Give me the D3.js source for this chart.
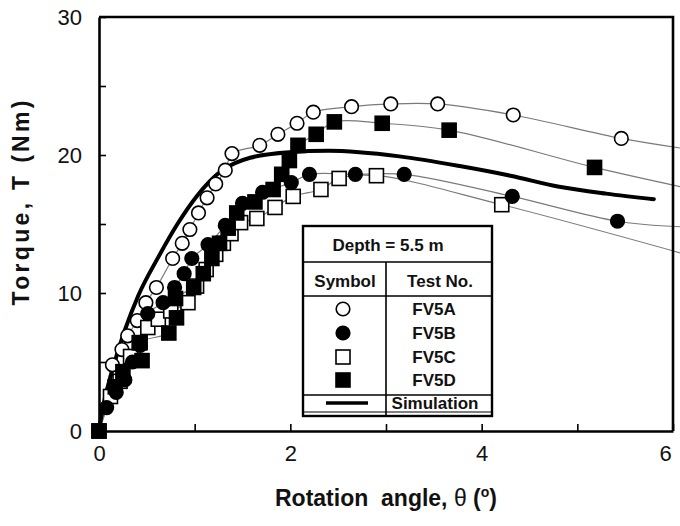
<!DOCTYPE html>
<html>
<head>
<meta charset="utf-8">
<script src="https://cdn.jsdelivr.net/npm/d3@7"></script>
<style>
  body { margin: 0; background: #fff; }
  text { font-family: "Liberation Sans", Arial, Helvetica, sans-serif; }
</style>
</head>
<body>
<svg id="chart" width="680" height="526"></svg>
<script>
// measured points [rotation angle (deg), torque (Nm)]
var fv5a = [[0,0],[0.14,4.8],[0.24,5.9],[0.30,6.9],[0.40,8.0],[0.49,9.3],[0.60,10.4],[0.77,12.5],
  [0.87,13.6],[0.95,14.6],[1.04,15.8],[1.13,16.9],[1.22,17.9],[1.32,18.9],[1.39,20.1],[1.68,20.7],
  [1.87,21.5],[2.07,22.3],[2.24,23.1],[2.64,23.5],[3.05,23.7],[3.54,23.7],[4.33,22.9],[5.46,21.2]];
var fv5b = [[0,0],[0.08,1.7],[0.18,2.8],[0.27,3.7],[0.35,5.0],[0.43,6.2],[0.51,8.5],[0.67,9.3],
  [0.79,10.4],[0.89,11.4],[0.97,12.5],[1.14,13.5],[1.32,14.9],[1.50,16.5],[1.71,17.3],[2.01,18.0],
  [2.20,18.6],[2.68,18.6],[3.19,18.6],[4.32,17.0],[5.42,15.2]];
var fv5c = [[0,0],[0.12,2.5],[0.22,3.6],[0.33,5.4],[0.42,6.4],[0.51,7.5],[0.62,8.1],[0.75,8.7],
  [0.93,9.3],[1.02,10.5],[1.12,11.7],[1.22,12.8],[1.30,13.6],[1.38,14.3],[1.48,15.1],[1.65,15.4],
  [1.84,16.2],[2.03,17.0],[2.32,17.5],[2.51,18.3],[2.90,18.5],[4.21,16.4]];
var fv5d = [[0,0],[0.17,3.2],[0.25,4.3],[0.45,5.1],[0.43,6.4],[0.73,7.1],[0.81,8.2],[0.80,9.6],
  [0.99,10.4],[1.09,11.4],[1.18,12.5],[1.26,13.6],[1.35,14.7],[1.44,15.8],[1.63,16.6],[1.82,17.5],
  [1.91,18.6],[1.99,19.6],[2.08,20.7],[2.27,21.5],[2.46,22.4],[2.96,22.3],[3.66,21.8],[5.18,19.1]];
// where the thin fitted lines leave the plot
var fv5aTail = [6.08, 20.5];
var fv5bTail = [6.08, 14.8];
var fv5cTail = [6.08, 12.9];
var fv5dTail = [6.08, 17.7];
var simulation = [[0,0],[0.03,1.3],[0.14,4.4],[0.27,7.3],[0.41,9.8],[0.62,12.6],[0.82,15.0],
  [1.02,17.0],[1.29,18.9],[1.58,19.8],[1.99,20.2],[2.4,20.3],[2.72,20.2],[3.14,19.9],[3.77,19.2],
  [4.3,18.5],[4.81,17.7],[5.3,17.2],[5.80,16.8]];

var xTicks = [0, 1, 2, 3, 4, 5, 6];
var yTicks = [0, 5, 10, 15, 20, 25, 30];
var testNames = ["FV5A", "FV5B", "FV5C", "FV5D"];
var depthLabel = "Depth = 5.5 m";

var svg = d3.select("#chart");
var x = d3.scaleLinear().domain([0, 6]).range([99, 673]);
var y = d3.scaleLinear().domain([0, 30]).range([431, 17]);

var series = [
  { name: "FV5A", pts: fv5a, tail: fv5aTail, shape: "circle", fill: "#fff" },
  { name: "FV5C", pts: fv5c, tail: fv5cTail, shape: "square", fill: "#fff" },
  { name: "FV5B", pts: fv5b, tail: fv5bTail, shape: "circle", fill: "#000" },
  { name: "FV5D", pts: fv5d, tail: fv5dTail, shape: "square", fill: "#000" }
];

var line = d3.line()
  .x(d => x(d[0]))
  .y(d => y(d[1]))
  .curve(d3.curveCatmullRom.alpha(0.5));

// thin grey connecting lines
series.forEach(function(s) {
  svg.append("path")
    .attr("d", line(s.pts.concat([s.tail])))
    .attr("fill", "none")
    .attr("stroke", "#7a7a7a")
    .attr("stroke-width", 1.2);
});

// simulation curve
svg.append("path")
  .attr("d", d3.line().x(d => x(d[0])).y(d => y(d[1])).curve(d3.curveMonotoneX)(simulation))
  .attr("fill", "none")
  .attr("stroke", "#000")
  .attr("stroke-width", 4)
  .attr("stroke-linecap", "round");

function drawMarker(g, shape, fill, cx, cy) {
  if (shape == "circle") {
    g.append("circle").attr("cx", cx).attr("cy", cy).attr("r", 6.8)
      .attr("fill", fill).attr("stroke", "#000").attr("stroke-width", 1.6);
  } else {
    g.append("rect").attr("x", cx - 7).attr("y", cy - 7).attr("width", 14).attr("height", 14)
      .attr("fill", fill).attr("stroke", "#000").attr("stroke-width", 1.6);
  }
}

series.forEach(function(s) {
  var g = svg.append("g");
  s.pts.forEach(function(p) {
    drawMarker(g, s.shape, s.fill, x(p[0]), y(p[1]));
  });
});

// axes with inward ticks
var xAxis = svg.append("g")
  .attr("transform", "translate(0," + y(0) + ")")
  .call(d3.axisBottom(x).tickValues(xTicks)
    .tickFormat(d => d % 2 === 0 ? d : "")
    .tickSizeInner(-7).tickSizeOuter(0).tickPadding(14));

var yAxis = svg.append("g")
  .attr("transform", "translate(" + x(0) + ",0)")
  .call(d3.axisLeft(y).tickValues(yTicks)
    .tickFormat(d => d % 10 === 0 ? d : "")
    .tickSizeInner(-7).tickSizeOuter(0).tickPadding(17));

[xAxis, yAxis].forEach(function(a) {
  a.select(".domain").attr("stroke-width", 2.6);
  a.selectAll(".tick line").attr("stroke-width", 1.6);
  a.selectAll(".tick text").attr("font-size", 22).attr("fill", "#111")
    .style("font-family", "'Liberation Sans', Arial, sans-serif");
});
xAxis.selectAll(".tick text").filter(d => d === 6).attr("dx", -8);

// frame top and right
svg.append("path")
  .attr("d", "M" + x(0) + "," + y(30) + "H" + x(6) + "V" + y(0))
  .attr("fill", "none").attr("stroke", "#000").attr("stroke-width", 2.6);

// axis titles
var xt = svg.append("text")
  .attr("x", 386).attr("y", 506)
  .attr("text-anchor", "middle")
  .attr("font-size", 23).attr("font-weight", "bold").attr("fill", "#111");
xt.append("tspan").text("Rotation\u00a0 angle, ");
xt.append("tspan").attr("font-weight", "normal").text("\u03b8");
xt.append("tspan").text(" (");
xt.append("tspan").attr("font-size", 14).attr("dy", -9).text("o");
xt.append("tspan").attr("dy", 9).text(")");

svg.append("text")
  .attr("transform", "translate(29,203) rotate(-90)")
  .attr("text-anchor", "middle")
  .attr("font-size", 23).attr("font-weight", "bold").attr("fill", "#111")
  .attr("textLength", 205).attr("lengthAdjust", "spacing")
  .text("Torque, T (Nm)");

// legend table
var lg = svg.append("g");
var L = 303, R = 492, T = 226, B = 416, mid = 386;
lg.append("rect").attr("x", L).attr("y", T).attr("width", R - L).attr("height", B - T)
  .attr("fill", "#fff").attr("stroke", "#000").attr("stroke-width", 2.4);
[262, 296, 395, 412].forEach(function(yy) {
  lg.append("line").attr("x1", L).attr("x2", R).attr("y1", yy).attr("y2", yy)
    .attr("stroke", "#000").attr("stroke-width", yy == 412 ? 1.2 : 1.6);
});
lg.append("line").attr("x1", mid).attr("x2", mid).attr("y1", 262).attr("y2", B)
  .attr("stroke", "#000").attr("stroke-width", 1.6);

function legText(tx, ty, s) {
  lg.append("text").attr("x", tx).attr("y", ty).attr("text-anchor", "middle")
    .attr("font-size", 17).attr("font-weight", "bold").attr("fill", "#111").text(s);
}
legText(388, 251, depthLabel);
legText(345, 287, "Symbol");
legText(440, 287, "Test No.");

var legendOrder = [series[0], series[2], series[1], series[3]];
var rowY = [309, 333, 357, 380];
testNames.forEach(function(n, i) {
  var s = legendOrder.find(d => d.name == n);
  drawMarker(lg, s.shape, s.fill, 343, rowY[i]);
  legText(434, rowY[i] + 6, n);
});
lg.append("line").attr("x1", 326).attr("x2", 368).attr("y1", 403).attr("y2", 403)
  .attr("stroke", "#000").attr("stroke-width", 3.5);
legText(435, 409, "Simulation");
</script>
</body>
</html>
